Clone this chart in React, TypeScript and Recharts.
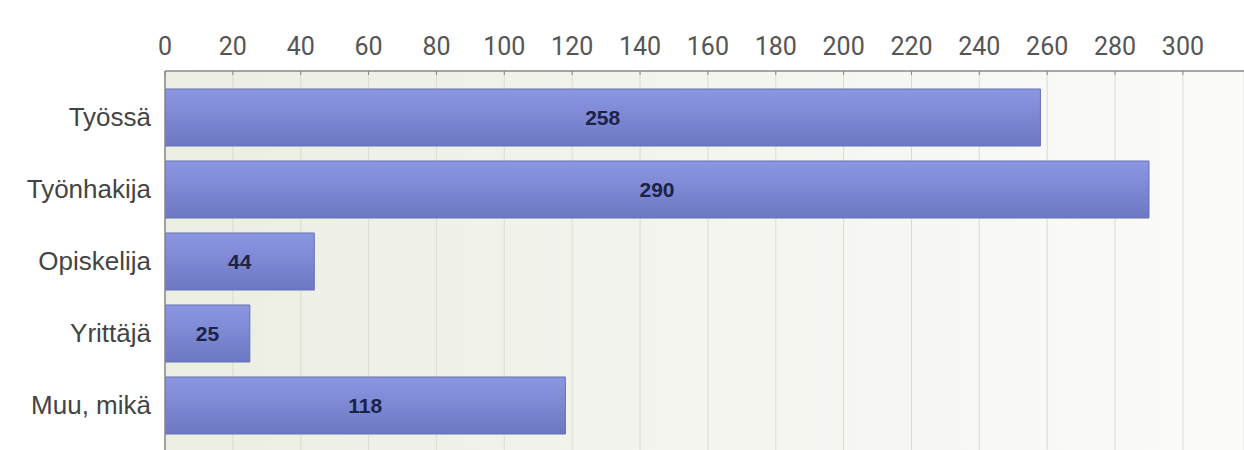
import React from 'react';
import { BarChart, Bar, XAxis, YAxis, CartesianGrid, LabelList } from 'recharts';

const categories = ['Työssä', 'Työnhakija', 'Opiskelija', 'Yrittäjä', 'Muu, mikä'];
const counts = [258, 290, 44, 25, 118];
const xTicks = [0, 20, 40, 60, 80, 100, 120, 140, 160, 180, 200, 220, 240, 260, 280, 300];

const data = categories.map((name, i) => ({ name, value: counts[i] }));

const TopTick = (props: any) => {
  const { x, y, payload } = props;
  return (
    <g>
      <text
        x={x}
        y={y}
        textAnchor="middle"
        fill="#555"
        fontFamily="Roboto, sans-serif"
        fontSize={25}
      >
        {payload.value}
      </text>
      <line x1={x} x2={x} y1={y + 16} y2={y + 20} stroke="#888" strokeWidth={1} />
    </g>
  );
};

export default function App() {
  return (
    <div style={{ position: 'absolute', left: 0, top: 0, background: '#fff' }}>
      <BarChart
        width={1244}
        height={450}
        data={data}
        layout="vertical"
        margin={{ top: 0, right: 0, bottom: 0, left: 0 }}
      >
        <defs>
          <linearGradient id="plotBg" x1="0" y1="0" x2="1" y2="0">
            <stop offset="0%" stopColor="#eceee3" />
            <stop offset="100%" stopColor="#fbfbfa" />
          </linearGradient>
          <linearGradient id="barFill" x1="0" y1="0" x2="0" y2="1">
            <stop offset="0%" stopColor="#8b97e2" />
            <stop offset="100%" stopColor="#6c78c2" />
          </linearGradient>
        </defs>
        <CartesianGrid
          horizontal={false}
          stroke="#dcdcd2"
          fill="url(#plotBg)"
          fillOpacity={1}
        />
        <XAxis
          type="number"
          orientation="top"
          domain={[0, 318]}
          ticks={xTicks}
          allowDataOverflow
          height={71}
          tickSize={0}
          tickMargin={16}
          tickLine={false}
          tick={<TopTick />}
          axisLine={{ stroke: '#888', strokeWidth: 1.5 }}
        />
        <YAxis
          type="category"
          dataKey="name"
          width={165}
          padding={{ top: 10, bottom: 9 }}
          tickLine={false}
          tickMargin={8}
          axisLine={{ stroke: '#888', strokeWidth: 1.5 }}
          tick={{ fill: '#444', fontSize: 26, fontFamily: '"Liberation Sans", Arial, sans-serif' }}
        />
        <Bar
          dataKey="value"
          barSize={57}
          fill="url(#barFill)"
          stroke="#6470b6"
          strokeWidth={1}
          isAnimationActive={false}
        >
          <LabelList
            dataKey="value"
            position="center"
            fill="#1c2248"
            fontSize={21}
            fontWeight={600}
            fontFamily='"Liberation Sans", Arial, sans-serif'
          />
        </Bar>
      </BarChart>
    </div>
  );
}
